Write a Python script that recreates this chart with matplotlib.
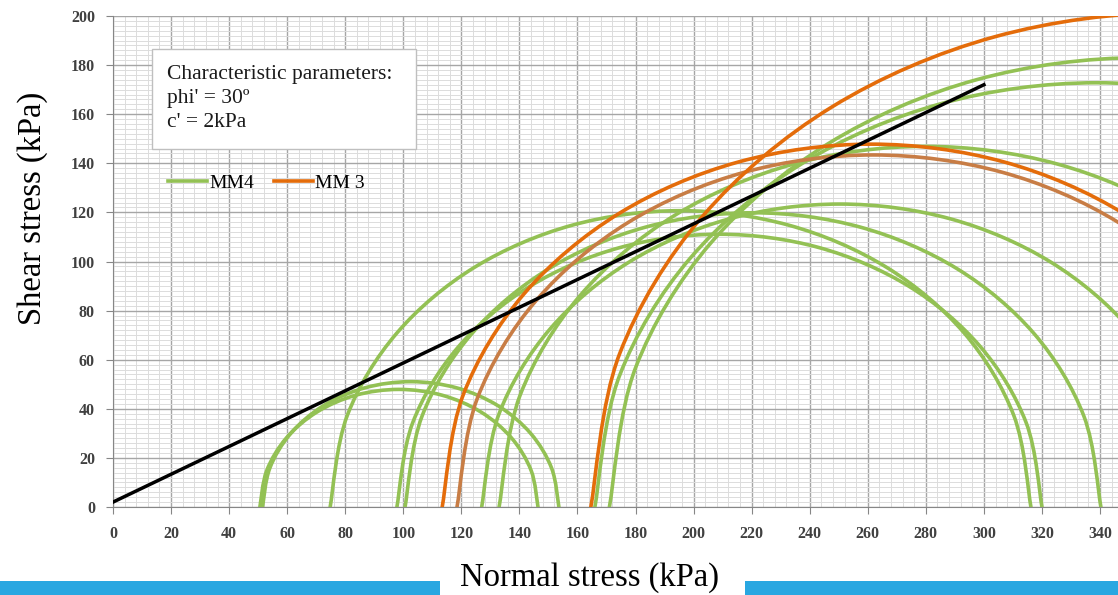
import numpy as np
import matplotlib.pyplot as plt
from matplotlib.path import Path
from matplotlib.patches import PathPatch, Rectangle
from matplotlib.lines import Line2D

plt.rcParams['font.family'] = ['Liberation Serif', 'DejaVu Serif']

# --- Mohr circles: minor / major principal stress (kPa) ---
mm4_sigma3 = [50.6, 51.5, 74.8, 97.8, 100.6, 127.0, 133.0, 166.0, 171.0]
mm4_sigma1 = [146.4, 153.6, 316.2, 320.0, 340.3, 373.8, 426.8, 511.6, 537.0]

mm3_sigma3 = [113.4, 118.5, 164.6]
mm3_sigma1 = [409.0, 405.3, 567.4]
mm3_colors = ['#E46C0A', '#C87D45', '#E46C0A']

# Failure envelope (phi' = 30, c' = 2 kPa)
env_sigma = [0, 300]
env_tau = [2, 172]

x_ticks = list(range(0, 341, 20))
y_ticks = list(range(0, 201, 20))

GREEN = '#93C154'


def mohr_path(s3, s1, n_seg=10):
    # semicircle sampled like the spreadsheet (every 18 deg), smoothed with bezier segments
    ang = np.linspace(np.pi, 0, n_seg + 1)
    c, r = (s1 + s3) / 2, (s1 - s3) / 2
    P = np.column_stack([c + r * np.cos(ang), r * np.sin(ang)])
    verts = [P[0]]
    codes = [Path.MOVETO]
    n = len(P)
    for i in range(n - 1):
        p_prev = P[i - 1] if i > 0 else P[i]
        p_next2 = P[i + 2] if i + 2 < n else P[i + 1]
        c1 = P[i] + (P[i + 1] - p_prev) / 6
        c2 = P[i + 1] - (p_next2 - P[i]) / 6
        verts += [c1, c2, P[i + 1]]
        codes += [Path.CURVE4] * 3
    return Path(verts, codes)


fig = plt.figure(figsize=(11.18, 5.95), dpi=100)
ax = fig.add_axes([113 / 1118, 1 - 507 / 595, 1005 / 1118, 491 / 595])

ax.set_xlim(0, 1005 / 2.903)
ax.set_ylim(0, 200)

# grid
ax.set_xticks(x_ticks)
ax.set_yticks(y_ticks)
ax.set_xticks(np.arange(0, 347, 4), minor=True)
ax.set_yticks(np.arange(0, 201, 2), minor=True)
ax.grid(which='major', color='#A6A6A6', linewidth=1.0, zorder=0)
ax.grid(which='minor', color='#DCDCDC', linewidth=0.7, zorder=0)
ax.set_axisbelow(True)

for s in ['top', 'right']:
    ax.spines[s].set_visible(False)
for s in ['left', 'bottom']:
    ax.spines[s].set_color('#868686')

ax.tick_params(axis='both', which='major', length=5, color='#868686',
               labelsize=11.5, labelcolor='#404040')
ax.tick_params(axis='x', which='major', pad=9)
ax.tick_params(axis='y', which='major', pad=8)
ax.tick_params(which='minor', length=0)
for lab in ax.get_xticklabels() + ax.get_yticklabels():
    lab.set_fontweight('bold')

# circles
for s3, s1 in zip(mm4_sigma3, mm4_sigma1):
    ax.add_patch(PathPatch(mohr_path(s3, s1), fill=False, edgecolor=GREEN,
                           linewidth=2.6, capstyle='round', zorder=3))
for s3, s1, col in zip(mm3_sigma3, mm3_sigma1, mm3_colors):
    ax.add_patch(PathPatch(mohr_path(s3, s1), fill=False, edgecolor=col,
                           linewidth=2.6, capstyle='round', zorder=4))

ax.plot(env_sigma, env_tau, color='black', linewidth=2.5, zorder=5)

# parameter box
ax.add_patch(Rectangle((0.0388, 0.729), 0.2627, 0.204, transform=ax.transAxes,
                       facecolor='white', edgecolor='#BFBFBF', linewidth=1.0, zorder=6))
ax.text(0.0537, 0.900, "Characteristic parameters:\nphi' = 30º\nc' = 2kPa",
        transform=ax.transAxes, fontsize=15.5, va='top', ha='left',
        linespacing=1.34, color='#1a1a1a', zorder=7)

# legend
handles = [Line2D([], [], color=GREEN, linewidth=2.6),
           Line2D([], [], color='#E46C0A', linewidth=2.6)]
leg = ax.legend(handles, ['MM4', 'MM 3'], ncol=2, frameon=False, fontsize=14,
                loc='center left', bbox_to_anchor=(0.037, 0.66),
                handlelength=2.0, handletextpad=0.15, columnspacing=1.0)
leg.set_zorder(7)

# axis titles
fig.text(589 / 1118, 1 - 578 / 595, 'Normal stress (kPa)', fontsize=23.5,
         ha='center', va='center')
fig.text(33 / 1118, 1 - 208 / 595, 'Shear stress (kPa)', fontsize=23.5,
         ha='center', va='center', rotation=90)

# blue strips at the bottom
fig.add_artist(Rectangle((0, 0), 440 / 1118, 14 / 595, transform=fig.transFigure,
                         facecolor='#29A7E1', edgecolor='none'))
fig.add_artist(Rectangle((745 / 1118, 0), 373 / 1118, 14 / 595, transform=fig.transFigure,
                         facecolor='#29A7E1', edgecolor='none'))

fig.savefig('out.png', dpi=100)
